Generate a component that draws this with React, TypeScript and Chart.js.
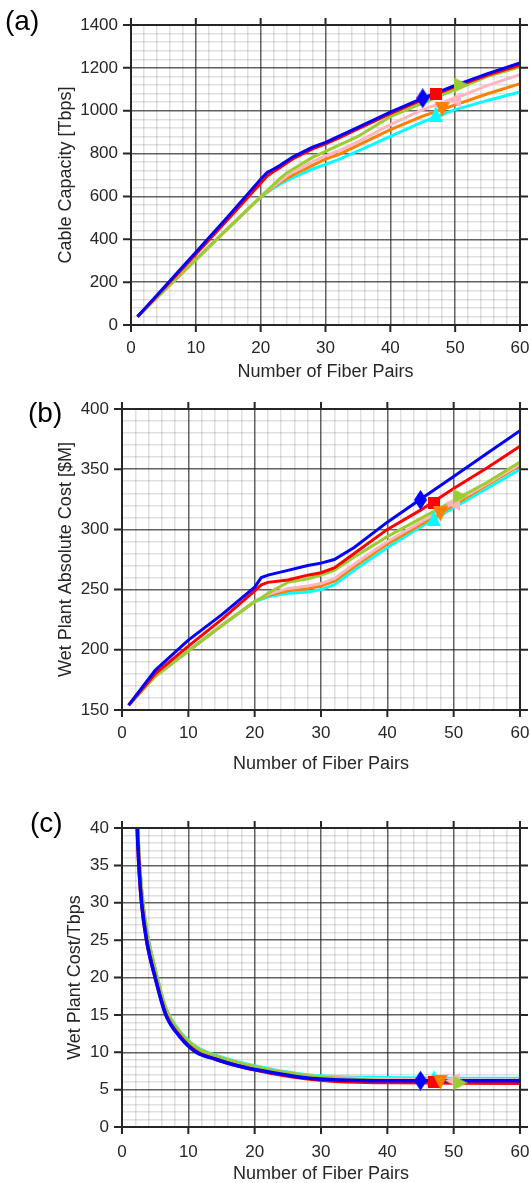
import React, { useEffect, useRef } from 'react';
import { Chart, registerables } from 'chart.js';

Chart.register(...registerables);

// ---------------- data ----------------
// series order: blue, red, green, pink, orange, cyan
const SERIES_COLORS = ['#0000ff', '#ff0000', '#9acd32', '#ffb6c1', '#ff8000', '#00ffff'];
const MARK_KIND = ['diamond', 'square', 'right', 'left', 'down', 'up'];
const MARK_X = [45, 47, 51, 49.8, 48, 47];

// (a) Cable Capacity [Tbps]
const A_X = [1, 5, 10, 15, 20, 21, 22, 23, 24, 25, 28, 30, 32, 35, 40, 45, 50, 55, 60];
const A_BLUE = [39, 173, 340, 508, 680, 712, 728, 745, 765, 785, 830, 852, 880, 922, 993, 1059, 1118, 1173, 1223];
const A_RED = [39, 168, 330, 495, 662, 695, 716, 735, 756, 776, 822, 845, 872, 915, 986, 1052, 1112, 1166, 1212];
const A_GREEN = [39, 158, 305, 452, 598, 627, 655, 684, 710, 728, 782, 810, 838, 880, 972, 1035, 1098, 1160, 1204];
const A_PINK = [39, 158, 305, 452, 598, 625, 648, 672, 695, 715, 762, 789, 812, 855, 935, 1005, 1058, 1118, 1168];
const A_ORANGE = [39, 158, 305, 452, 598, 622, 645, 665, 683, 700, 745, 774, 795, 838, 912, 975, 1027, 1079, 1126];
const A_CYAN = [39, 158, 305, 452, 596, 618, 640, 658, 674, 688, 728, 750, 772, 812, 880, 948, 1005, 1048, 1087];
const A_MARK = [1058, 1077, 1120, 1050, 1005, 985];

// (b) Wet Plant Absolute Cost [$M]
const B_X = [1, 5, 10, 15, 20, 21, 22, 25, 28, 30, 32, 35, 40, 45, 50, 55, 60];
const B_BLUE = [154, 183, 208, 229, 252, 260, 262, 266, 270, 272, 275, 285, 306, 325, 344, 363, 382];
const B_RED = [154, 180, 203, 225, 249, 254, 256, 258, 262, 264, 268, 280, 300, 316, 334, 351, 369];
const B_GREEN = [154, 178, 199, 220, 240, 243, 247, 256, 259, 262, 266, 277, 294, 309, 324, 339, 356];
const B_PINK = [154, 178, 199, 220, 240, 243, 246, 251, 253, 255, 259, 271, 290, 306, 322, 338, 354];
const B_ORANGE = [154, 178, 199, 220, 240, 243, 245, 249, 251, 253, 257, 269, 288, 304, 320, 337, 353];
const B_CYAN = [154, 178, 199, 220, 240, 242, 244, 247, 248, 250, 254, 266, 285, 302, 318, 334, 350];
const B_MARK = [324.5, 321.7, 327.7, 321.7, 312.8, 309.2];

// (c) Wet Plant Cost/Tbps
const C_X = [2, 2.3, 2.55, 2.95, 3.7, 5, 6.6, 8.7, 11.2, 14, 17.4, 22.5, 27.6, 32.7, 40, 50, 60];
const C_BLUE = [52, 40, 35, 30, 25, 20, 15, 12.1, 10, 9.1, 8.2, 7.3, 6.6, 6.3, 6.2, 6.2, 6.2];
const C_RED = [52, 40, 35, 30, 25, 20, 15.1, 12.2, 10.1, 9.1, 8.2, 7.2, 6.5, 6.1, 5.95, 5.9, 5.85];
const C_GREEN = [54, 41.5, 36.5, 31.5, 26.3, 21, 15.8, 12.7, 10.6, 9.5, 8.6, 7.6, 6.9, 6.5, 6.2, 6.05, 6.0];
const C_PINK = [54, 41.5, 36.5, 31.4, 26.2, 21, 15.7, 12.7, 10.6, 9.5, 8.6, 7.6, 6.9, 6.6, 6.4, 6.3, 6.3];
const C_ORANGE = [54, 41.3, 36.3, 31.3, 26.1, 20.9, 15.6, 12.6, 10.5, 9.4, 8.5, 7.5, 6.8, 6.4, 6.1, 6.0, 5.95];
const C_CYAN = [54, 41.6, 36.6, 31.6, 26.4, 21.1, 15.9, 12.8, 10.7, 9.6, 8.7, 7.7, 7.0, 6.7, 6.6, 6.5, 6.5];
const C_MARK = [6.2, 6.0, 5.9, 6.2, 6.0, 6.55];

const X_TITLE = 'Number of Fiber Pairs';

// ---------------- layout / style ----------------
const FONT = '"Liberation Sans", Arial, Helvetica, sans-serif';
const INK = '#262626';
const MAJOR_GRID = 'rgba(38,38,38,0.72)';
const MINOR_GRID = 'rgba(38,38,38,0.14)';

type Panel = {
  top: number; height: number; padTop: number; yWidth: number; xHeight: number;
  xs: number[]; ys: number[][]; marks: number[];
  yMin: number; yMax: number; yStep: number; yMajor: number;
  yTitle: string; yTitlePad: number; xTitlePad: number; xTickPad: number;
  smooth: boolean; lineWidth: number; label: string; labelLeft: number; labelTop: number;
};

const PANELS: Panel[] = [
  {
    top: 0, height: 390, padTop: 25, yWidth: 131, xHeight: 65,
    xs: A_X, ys: [A_BLUE, A_RED, A_GREEN, A_PINK, A_ORANGE, A_CYAN], marks: A_MARK,
    yMin: 0, yMax: 1400, yStep: 40, yMajor: 200,
    yTitle: 'Cable Capacity [Tbps]', yTitlePad: 57, xTitlePad: 9, xTickPad: 13.5,
    smooth: false, lineWidth: 3, label: '(a)', labelLeft: 5, labelTop: 7,
  },
  {
    top: 390, height: 390, padTop: 19, yWidth: 122, xHeight: 70,
    xs: B_X, ys: [B_BLUE, B_RED, B_GREEN, B_PINK, B_ORANGE, B_CYAN], marks: B_MARK,
    yMin: 150, yMax: 400, yStep: 10, yMajor: 50,
    yTitle: 'Wet Plant Absolute Cost [$M]', yTitlePad: 57, xTitlePad: 7, xTickPad: 13.5,
    smooth: false, lineWidth: 3, label: '(b)', labelLeft: 28, labelTop: 399,
  },
  {
    top: 780, height: 403, padTop: 48, yWidth: 122, xHeight: 56,
    xs: C_X, ys: [C_BLUE, C_RED, C_GREEN, C_PINK, C_ORANGE, C_CYAN], marks: C_MARK,
    yMin: 0, yMax: 40, yStep: 1, yMajor: 5,
    yTitle: 'Wet Plant Cost/Tbps', yTitlePad: 66, xTitlePad: 0, xTickPad: 15,
    smooth: true, lineWidth: 3.5, label: '(c)', labelLeft: 30, labelTop: 809,
  },
];

function makeMarker(kind: string, color: string): HTMLCanvasElement {
  const c = document.createElement('canvas');
  let w = 15, h = 15;
  if (kind === 'diamond') { w = 13; h = 20; }
  if (kind === 'square') { w = 12; h = 12; }
  if (kind === 'up') { w = 14; h = 16; }
  c.width = w; c.height = h;
  const g = c.getContext('2d')!;
  g.fillStyle = color;
  g.beginPath();
  if (kind === 'diamond') { g.moveTo(w / 2, 0); g.lineTo(w, h / 2); g.lineTo(w / 2, h); g.lineTo(0, h / 2); }
  else if (kind === 'square') { g.rect(0, 0, w, h); }
  else if (kind === 'up') { g.moveTo(w / 2, 0); g.lineTo(w, h); g.lineTo(0, h); }
  else if (kind === 'down') { g.moveTo(0, 0); g.lineTo(w, 0); g.lineTo(w / 2, h); }
  else if (kind === 'left') { g.moveTo(0, h / 2); g.lineTo(w, 0); g.lineTo(w, h); }
  else { g.moveTo(0, 0); g.lineTo(w, h / 2); g.lineTo(0, h); }
  g.closePath();
  g.fill();
  return c;
}

const isMult = (v: number, m: number) => Math.abs(v / m - Math.round(v / m)) < 1e-6;

const frameTicks = {
  id: 'frameTicks',
  afterDraw(chart: any, _a: any, opts: any) {
    const { ctx, chartArea: a, scales } = chart;
    const xs = scales.x, ys = scales.y;
    ctx.save();
    ctx.strokeStyle = INK;
    ctx.lineWidth = 2;
    ctx.strokeRect(a.left, a.top, a.right - a.left, a.bottom - a.top);
    ctx.beginPath();
    for (let v = xs.min; v <= xs.max + 1e-9; v += opts.xMajor) {
      const p = xs.getPixelForValue(v);
      ctx.moveTo(p, a.bottom); ctx.lineTo(p, a.bottom + 7);
      ctx.moveTo(p, a.top); ctx.lineTo(p, a.top - 7);
    }
    for (let v = ys.min; v <= ys.max + 1e-9; v += opts.yMajor) {
      const p = ys.getPixelForValue(v);
      ctx.moveTo(a.left - 8, p); ctx.lineTo(a.left, p);
      ctx.moveTo(a.right, p); ctx.lineTo(a.right + 8, p);
    }
    ctx.stroke();
    ctx.restore();
  },
};

function buildConfig(p: Panel): any {
  const lineSets = p.ys.map((vals, i) => ({
    data: p.xs.map((x, j) => ({ x, y: vals[j] })),
    borderColor: SERIES_COLORS[i],
    backgroundColor: SERIES_COLORS[i],
    borderWidth: p.lineWidth,
    pointRadius: 0,
    tension: 0,
    cubicInterpolationMode: p.smooth ? 'monotone' : 'default',
    fill: false,
    order: 1,
  }));
  const drawOrder = [2, 3, 4, 1, 5, 0]; // first = on top
  const markSets = drawOrder.map((i) => ({
    data: [{ x: MARK_X[i], y: p.marks[i] }],
    showLine: false,
    pointStyle: makeMarker(MARK_KIND[i], SERIES_COLORS[i]),
    pointRadius: 8,
    borderColor: SERIES_COLORS[i],
    backgroundColor: SERIES_COLORS[i],
    order: 0,
  }));
  const grid = (major: number) => ({
    drawTicks: false,
    color: (c: any) => (c.tick && isMult(c.tick.value, major) ? MAJOR_GRID : MINOR_GRID),
    lineWidth: 1.5,
  });
  return {
    type: 'line',
    data: { datasets: [...lineSets, ...markSets] },
    plugins: [frameTicks],
    options: {
      animation: false,
      responsive: false,
      devicePixelRatio: 1,
      events: [],
      layout: { padding: { top: p.padTop, right: 11, left: 0, bottom: 0 } },
      plugins: {
        legend: { display: false },
        tooltip: { enabled: false },
        frameTicks: { xMajor: 10, yMajor: p.yMajor },
      },
      scales: {
        x: {
          type: 'linear',
          min: 0, max: 60,
          grid: grid(10),
          border: { display: false },
          ticks: {
            stepSize: 2,
            autoSkip: false,
            maxRotation: 0,
            padding: p.xTickPad,
            color: INK,
            font: { family: FONT, size: 17 },
            callback: (v: number) => (isMult(v, 10) ? String(v) : ''),
          },
          title: {
            display: true, text: X_TITLE, color: INK,
            font: { family: FONT, size: 18, lineHeight: 1 },
            padding: { top: 0, bottom: p.xTitlePad },
          },
          afterFit: (s: any) => { s.height = p.xHeight; s.paddingLeft = 0; s.paddingRight = 0; },
        },
        y: {
          type: 'linear',
          min: p.yMin, max: p.yMax,
          grid: grid(p.yMajor),
          border: { display: false },
          ticks: {
            stepSize: p.yStep,
            autoSkip: false,
            padding: 13,
            color: INK,
            font: { family: FONT, size: 17 },
            callback: (v: number) => (isMult(v, p.yMajor) ? String(v) : ''),
          },
          title: {
            display: true, text: p.yTitle, color: INK,
            font: { family: FONT, size: 18, lineHeight: 1 },
            padding: { top: p.yTitlePad, bottom: 0 },
          },
          afterFit: (s: any) => { s.width = p.yWidth; s.paddingTop = 0; s.paddingBottom = 0; },
        },
      },
    },
  };
}

function PanelChart({ p }: { p: Panel }) {
  const ref = useRef<HTMLCanvasElement>(null);
  useEffect(() => {
    const chart = new Chart(ref.current as HTMLCanvasElement, buildConfig(p));
    return () => chart.destroy();
  }, [p]);
  return (
    <canvas
      ref={ref}
      width={531}
      height={p.height}
      style={{ position: 'absolute', left: 0, top: p.top, width: 531, height: p.height }}
    />
  );
}

export default function App() {
  return (
    <div style={{ position: 'absolute', left: 0, top: 0, width: 531, height: 1183, background: '#fff', overflow: 'hidden' }}>
      {PANELS.map((p) => (
        <PanelChart key={p.label} p={p} />
      ))}
      {PANELS.map((p) => (
        <div
          key={'l' + p.label}
          style={{
            position: 'absolute', left: p.labelLeft, top: p.labelTop,
            fontFamily: FONT, fontSize: 28, lineHeight: 1, color: '#000',
          }}
        >
          {p.label}
        </div>
      ))}
    </div>
  );
}
